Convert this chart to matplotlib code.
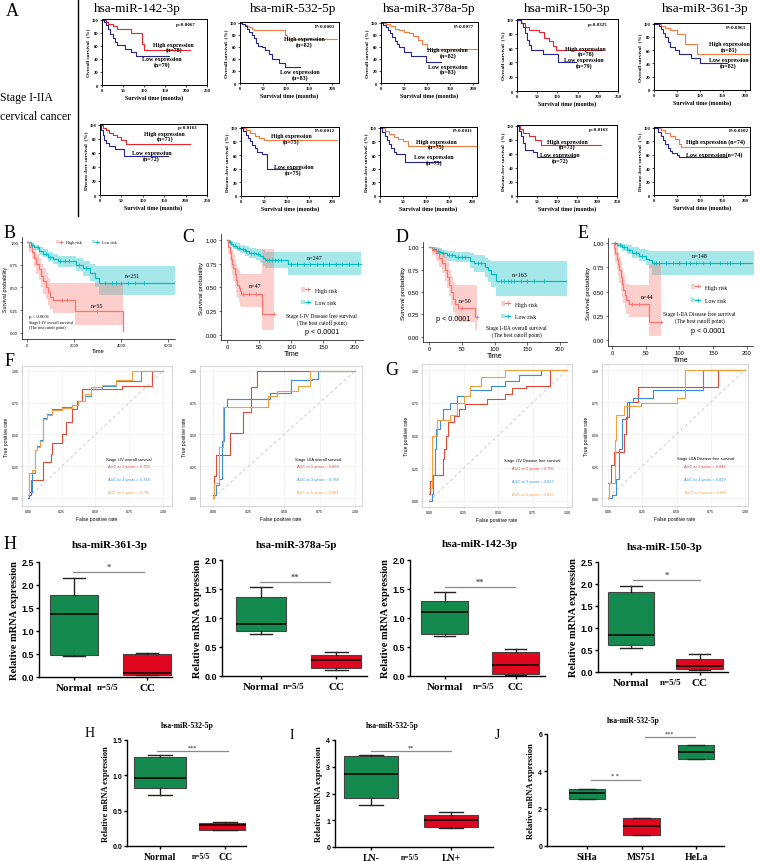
import numpy as np
import matplotlib
matplotlib.use("Agg")
import matplotlib.pyplot as plt
from matplotlib.lines import Line2D
from matplotlib.patches import Patch
from matplotlib.legend_handler import HandlerTuple
from matplotlib.ticker import FormatStrFormatter

SERIF = "Liberation Serif"
SANS = "Liberation Sans"
plt.rcParams["font.family"] = SERIF

W, H = 761, 862

# ---------------- Panel A : Kaplan-Meier, (month, survival %) ----------------
A_MIRS = ["hsa-miR-142-3p", "hsa-miR-532-5p", "hsa-miR-378a-5p", "hsa-miR-150-3p", "hsa-miR-361-3p"]
A_OS_P = ["p=0.0067", "P<0.0001", "P=0.0077", "p=0.0325", "P=0.0063"]
A_DFS_P = ["p=0.0163", "P=0.0012", "P=0.0011", "p=0.0163", "P=0.0102"]
A_OS_HI_LBL = ["High expression\n(n=78)", "High expression\n(n=82)", "High expression\n(n=82)",
               "High expression\n(n=78)", "High expression\n(n=81)"]
A_OS_LO_LBL = ["Low expression\n(n=79)", "Low expression\n(n=83)", "Low expression\n(n=83)",
               "Low expression\n(n=79)", "Low expression\n(n=82)"]
A_DFS_HI_LBL = ["High expression\n(n=71)", "High expression\n(n=75)", "High expression\n(n=75)",
                "High expression\n(n=71)", "High expression (n=74)"]
A_DFS_LO_LBL = ["Low expression\n(n=72)", "Low expression\n(n=75)", "Low expression\n(n=75)",
                "Low expression\n(n=72)", "Low expression(n=74)"]

OS_142_HI = [(0, 100), (10, 97), (15, 93), (25, 90), (35, 86), (70, 80), (96, 62), (100, 54), (210, 54)]
OS_142_LO = [(0, 100), (5, 97), (10, 92), (15, 85), (20, 78), (25, 72), (30, 66), (35, 61), (55, 55), (70, 50), (80, 44), (160, 44)]
OS_532_HI = [(0, 100), (5, 98), (10, 96), (15, 94), (20, 92), (25, 90), (30, 88), (40, 87), (97, 80), (103, 73), (210, 73)]
OS_532_LO = [(0, 100), (5, 97), (10, 94), (15, 90), (20, 85), (25, 80), (30, 74), (35, 67), (40, 62), (47, 60), (55, 55),
             (62, 48), (70, 40), (85, 33), (97, 26), (130, 26)]
OS_378_HI = [(0, 100), (10, 97), (20, 94), (30, 90), (40, 87), (50, 85), (60, 83), (70, 78), (80, 72), (90, 65), (100, 57), (210, 57)]
OS_378_LO = [(0, 100), (5, 96), (10, 92), (15, 87), (20, 82), (25, 76), (30, 70), (35, 65), (40, 60), (50, 52), (66, 45), (97, 35), (130, 35)]
OS_150_HI = [(0, 100), (10, 95), (20, 90), (30, 85), (55, 83), (68, 75), (80, 70), (90, 63), (97, 57), (210, 57)]
OS_150_LO = [(0, 100), (10, 95), (15, 90), (20, 82), (25, 72), (30, 65), (35, 58), (65, 52), (102, 41), (145, 41)]
OS_361_HI = [(0, 100), (15, 97), (25, 93), (35, 90), (50, 85), (68, 70), (95, 55), (210, 55)]
OS_361_LO = [(0, 100), (10, 96), (15, 92), (20, 86), (25, 80), (30, 72), (35, 65), (45, 60), (55, 55), (82, 48), (100, 40), (160, 40)]

DFS_142_HI = [(0, 100), (8, 95), (15, 92), (22, 88), (30, 85), (40, 82), (50, 78), (60, 73), (210, 73)]
DFS_142_LO = [(0, 100), (3, 92), (6, 85), (10, 78), (15, 74), (20, 70), (35, 66), (55, 55), (160, 55)]
DFS_532_HI = [(0, 100), (10, 96), (20, 92), (30, 88), (40, 85), (50, 82), (210, 82)]
DFS_532_LO = [(0, 100), (5, 95), (10, 90), (15, 85), (20, 80), (25, 74), (30, 70), (35, 65), (45, 62), (57, 40), (130, 40)]
DFS_378_HI = [(0, 100), (10, 95), (20, 91), (30, 87), (40, 84), (50, 80), (60, 73), (210, 73)]
DFS_378_LO = [(0, 100), (5, 94), (10, 88), (15, 82), (20, 76), (25, 70), (30, 65), (35, 62), (55, 50), (130, 50)]
DFS_150_HI = [(0, 100), (8, 95), (15, 90), (30, 85), (45, 80), (60, 72), (210, 72)]
DFS_150_LO = [(0, 100), (5, 92), (10, 85), (15, 75), (20, 65), (40, 62), (50, 55), (145, 55)]
DFS_361_HI = [(0, 100), (15, 96), (25, 92), (35, 88), (45, 83), (55, 76), (60, 72), (210, 72)]
DFS_361_LO = [(0, 100), (8, 94), (15, 88), (20, 82), (25, 76), (30, 70), (35, 66), (40, 63), (50, 60), (55, 56), (160, 56)]

# ---------------- Panels B-E : KM with confidence bands ----------------
B_LO_T = [0, 150, 300, 500, 700, 900, 1100, 1300, 2100, 2400, 2700, 2900, 3050, 6300]
B_LO_S = [1.0, 0.97, 0.94, 0.90, 0.87, 0.84, 0.81, 0.79, 0.75, 0.71, 0.66, 0.60, 0.55, 0.55]
B_LO_L = [1.0, 0.95, 0.91, 0.86, 0.83, 0.79, 0.76, 0.73, 0.68, 0.63, 0.57, 0.50, 0.42, 0.42]
B_LO_U = [1.0, 0.99, 0.97, 0.94, 0.92, 0.89, 0.87, 0.85, 0.82, 0.79, 0.76, 0.74, 0.74, 0.74]
B_LO_C = [200, 450, 800, 1000, 1400, 1600, 1800, 2200, 2500, 3300, 3600, 3800, 4000, 4300, 4600, 5000]
B_HI_T = [0, 100, 200, 300, 400, 500, 600, 700, 800, 900, 1000, 1100, 2050, 4100]
B_HI_S = [1.0, 0.95, 0.89, 0.82, 0.76, 0.70, 0.63, 0.57, 0.51, 0.45, 0.40, 0.36, 0.24, 0.02]
B_HI_L = [1.0, 0.89, 0.81, 0.72, 0.65, 0.58, 0.50, 0.43, 0.37, 0.31, 0.26, 0.22, 0.09, 0.09]
B_HI_U = [1.0, 1.0, 0.97, 0.92, 0.87, 0.82, 0.76, 0.71, 0.66, 0.60, 0.55, 0.55, 0.55, 0.55]
B_HI_C = [1500, 1700, 3000]

C_LO_T = [0, 3, 6, 10, 15, 20, 28, 35, 45, 52, 57, 60, 96, 210]
C_LO_S = [1.0, 0.98, 0.96, 0.94, 0.92, 0.90, 0.88, 0.86, 0.85, 0.83, 0.81, 0.79, 0.75, 0.75]
C_LO_L = [1.0, 0.96, 0.93, 0.91, 0.88, 0.86, 0.83, 0.81, 0.79, 0.76, 0.73, 0.70, 0.63, 0.63]
C_LO_U = [1.0, 1.0, 0.99, 0.98, 0.97, 0.95, 0.94, 0.92, 0.91, 0.90, 0.89, 0.87, 0.87, 0.87]
C_LO_C = [5, 12, 18, 25, 30, 38, 42, 48, 62, 66, 70, 75, 80, 85, 100, 110, 120, 130, 140, 150, 160, 170, 180, 190, 205]
C_HI_T = [0, 2, 4, 6, 8, 10, 12, 14, 16, 18, 20, 22, 55, 73]
C_HI_S = [1.0, 0.93, 0.87, 0.80, 0.75, 0.70, 0.64, 0.58, 0.53, 0.49, 0.46, 0.43, 0.22, 0.22]
C_HI_L = [1.0, 0.85, 0.77, 0.69, 0.63, 0.57, 0.50, 0.44, 0.39, 0.35, 0.31, 0.29, 0.05, 0.05]
C_HI_U = [1.0, 1.0, 0.98, 0.93, 0.89, 0.85, 0.80, 0.75, 0.71, 0.68, 0.65, 0.64, 0.91, 0.91]
C_HI_C = [25, 35, 45, 73]

D_LO_T = [0, 5, 10, 15, 20, 28, 40, 62, 68, 85, 90, 95, 102, 210]
D_LO_S = [1.0, 0.98, 0.96, 0.95, 0.93, 0.91, 0.89, 0.85, 0.82, 0.78, 0.74, 0.70, 0.62, 0.62]
D_LO_L = [1.0, 0.96, 0.93, 0.91, 0.88, 0.85, 0.83, 0.77, 0.72, 0.67, 0.61, 0.56, 0.46, 0.46]
D_LO_U = [1.0, 1.0, 0.99, 0.99, 0.97, 0.96, 0.95, 0.93, 0.91, 0.88, 0.86, 0.84, 0.84, 0.84]
D_LO_C = [8, 14, 22, 30, 35, 45, 50, 55, 75, 80, 110, 115, 120, 125, 130, 140, 150, 160, 175]
D_HI_T = [0, 5, 10, 15, 20, 25, 28, 31, 34, 37, 40, 44, 70, 74]
D_HI_S = [1.0, 0.97, 0.93, 0.88, 0.82, 0.75, 0.67, 0.58, 0.50, 0.42, 0.37, 0.32, 0.22, 0.22]
D_HI_L = [1.0, 0.91, 0.85, 0.78, 0.71, 0.62, 0.54, 0.45, 0.36, 0.28, 0.22, 0.17, 0.08, 0.08]
D_HI_U = [1.0, 1.0, 1.0, 0.98, 0.94, 0.89, 0.83, 0.75, 0.68, 0.61, 0.58, 0.58, 0.58, 0.58]
D_HI_C = [50, 73]

E_LO_T = [0, 8, 15, 22, 30, 40, 50, 55, 60, 210]
E_LO_S = [1.0, 0.98, 0.96, 0.93, 0.90, 0.87, 0.84, 0.82, 0.79, 0.79]
E_LO_L = [1.0, 0.96, 0.92, 0.89, 0.85, 0.81, 0.77, 0.74, 0.67, 0.67]
E_LO_U = [1.0, 1.0, 0.99, 0.98, 0.96, 0.94, 0.93, 0.92, 0.92, 0.92]
E_LO_C = [5, 12, 18, 25, 35, 45, 62, 65, 70, 80, 90, 100, 110, 115, 125, 135, 145, 160, 170, 175, 190]
E_HI_T = [0, 3, 5, 7, 9, 11, 13, 15, 17, 19, 21, 25, 55, 73]
E_HI_S = [1.0, 0.95, 0.90, 0.84, 0.78, 0.72, 0.65, 0.58, 0.52, 0.46, 0.41, 0.37, 0.19, 0.19]
E_HI_L = [1.0, 0.87, 0.80, 0.73, 0.66, 0.59, 0.51, 0.44, 0.38, 0.32, 0.27, 0.24, 0.04, 0.04]
E_HI_U = [1.0, 1.0, 1.0, 0.96, 0.91, 0.86, 0.80, 0.74, 0.68, 0.62, 0.58, 0.57, 0.78, 0.78]
E_HI_C = [30, 40, 72]

# ---------------- Panels F-G : time-dependent ROC (FPR, TPR) ----------------
F1_RED_X = [0, 0.02, 0.11, 0.17, 0.18, 0.25, 0.28, 0.33, 0.36, 0.40, 0.70, 0.92, 1.0]
F1_RED_Y = [0.02, 0.14, 0.28, 0.35, 0.43, 0.50, 0.60, 0.70, 0.76, 0.86, 0.88, 1.0, 1.0]
F1_BLU_X = [0, 0.01, 0.03, 0.05, 0.07, 0.09, 0.11, 0.14, 0.18, 0.25, 0.33, 0.37, 0.42, 0.47, 0.55, 0.65, 0.84, 1.0]
F1_BLU_Y = [0.0, 0.05, 0.20, 0.38, 0.41, 0.46, 0.63, 0.66, 0.70, 0.72, 0.73, 0.76, 0.80, 0.86, 0.88, 0.92, 1.0, 1.0]
F1_ORA_X = [0, 0.01, 0.03, 0.05, 0.07, 0.09, 0.11, 0.14, 0.18, 0.25, 0.33, 0.37, 0.42, 0.47, 0.55, 0.65, 0.77, 1.0]
F1_ORA_Y = [0.02, 0.20, 0.22, 0.38, 0.40, 0.45, 0.62, 0.65, 0.69, 0.71, 0.73, 0.76, 0.82, 0.87, 0.89, 0.93, 1.0, 1.0]
F1_AUC = ["0.709", "0.794", "0.795"]

F2_RED_X = [0, 0.01, 0.02, 0.12, 0.21, 0.27, 0.31, 1.0]
F2_RED_Y = [0.0, 0.17, 0.34, 0.51, 0.68, 0.87, 1.0, 1.0]
F2_BLU_X = [0, 0.02, 0.04, 0.06, 0.08, 0.10, 0.40, 0.55, 0.70, 0.74, 1.0]
F2_BLU_Y = [0.02, 0.10, 0.15, 0.45, 0.72, 0.78, 0.83, 0.93, 0.94, 1.0, 1.0]
F2_ORA_X = [0, 0.01, 0.04, 0.07, 0.39, 0.45, 0.60, 0.68, 1.0]
F2_ORA_Y = [0.0, 0.12, 0.40, 0.72, 0.80, 0.84, 0.88, 1.0, 1.0]
F2_AUC = ["0.839", "0.788", "0.804"]

G1_RED_X = [0, 0.01, 0.02, 0.10, 0.11, 0.12, 0.14, 0.18, 0.22, 0.26, 0.42, 0.55, 0.60, 0.70, 0.88, 1.0]
G1_RED_Y = [0.05, 0.15, 0.20, 0.32, 0.40, 0.50, 0.60, 0.65, 0.70, 0.74, 0.78, 0.82, 0.86, 0.88, 1.0, 1.0]
G1_BLU_X = [0, 0.02, 0.03, 0.04, 0.05, 0.08, 0.10, 0.15, 0.20, 0.30, 0.45, 0.55, 0.65, 0.81, 1.0]
G1_BLU_Y = [0.0, 0.05, 0.20, 0.40, 0.55, 0.62, 0.70, 0.75, 0.80, 0.85, 0.88, 0.92, 0.96, 1.0, 1.0]
G1_ORA_X = [0, 0.02, 0.06, 0.15, 0.20, 0.25, 0.30, 0.38, 0.55, 1.0]
G1_ORA_Y = [0.10, 0.50, 0.62, 0.66, 0.75, 0.80, 0.88, 0.95, 1.0, 1.0]
G1_AUC = ["0.750", "0.817", "0.833"]

G2_RED_X = [0, 0.02, 0.04, 0.12, 0.13, 0.15, 0.22, 0.80, 1.0]
G2_RED_Y = [0.12, 0.26, 0.36, 0.50, 0.63, 0.75, 0.87, 1.0, 1.0]
G2_BLU_X = [0, 0.03, 0.06, 0.08, 0.10, 0.14, 0.18, 0.33, 0.69, 1.0]
G2_BLU_Y = [0.0, 0.02, 0.15, 0.38, 0.62, 0.75, 0.78, 0.84, 1.0, 1.0]
G2_ORA_X = [0, 0.01, 0.05, 0.06, 0.12, 0.24, 0.50, 0.56, 1.0]
G2_ORA_Y = [0.0, 0.12, 0.45, 0.65, 0.72, 0.74, 0.78, 1.0, 1.0]
G2_AUC = ["0.842", "0.819", "0.809"]

# ---------------- Panels H-J : box plots (whisker lo, q1, median, q3, whisker hi) ----------------
H_361 = [[0.45, 0.48, 1.38, 1.79, 2.16], [0.04, 0.05, 0.09, 0.50, 0.53]]
H_378 = [[0.72, 0.78, 0.89, 1.36, 1.53], [0.11, 0.14, 0.27, 0.36, 0.42]]
H_142 = [[0.69, 0.73, 1.11, 1.30, 1.44], [0.01, 0.04, 0.19, 0.41, 0.46]]
H_150 = [[0.55, 0.61, 0.83, 1.81, 1.96], [0.05, 0.07, 0.14, 0.30, 0.40]]
H_532 = [[0.72, 0.82, 0.96, 1.26, 1.29], [0.22, 0.23, 0.30, 0.33, 0.34]]
I_532 = [[1.57, 1.82, 2.72, 3.40, 3.45], [0.70, 0.75, 1.01, 1.18, 1.31]]
J_532 = [[2.52, 2.52, 2.82, 3.05, 3.05], [0.60, 0.60, 1.05, 1.48, 1.48], [4.65, 4.65, 5.02, 5.42, 5.42]]
NC_LABELS = ["Normal", "CC"]
LN_LABELS = ["LN-", "LN+"]
CELL_LABELS = ["SiHa", "MS751", "HeLa"]

HI_RED = "#E8262B"
HI_ORANGE = "#F47C42"
LOW_NAVY = "#26248E"
KM_RED = "#F8766D"
KM_CYAN = "#00BFC4"
ROC_RED, ROC_BLUE, ROC_ORANGE = "#DC4B37", "#3B8ED8", "#F3A03B"
BOX_GREEN, BOX_RED = "#148A4E", "#E0061F"

fig = plt.figure(figsize=(W / 100, H / 100), dpi=100)
fig.patch.set_facecolor("white")


def px_axes(x0, y0, x1, y1):
    return fig.add_axes([x0 / W, 1 - y1 / H, (x1 - x0) / W, (y1 - y0) / H])


def ftext(x, y, s, **kw):
    fig.text(x / W, 1 - y / H, s, **kw)


def tick_font(ax, size, family, weight="normal"):
    for lab in ax.get_xticklabels() + ax.get_yticklabels():
        lab.set_fontsize(size)
        lab.set_family(family)
        lab.set_weight(weight)


# ---------- Panel A ----------
ftext(12, 11, "A", fontsize=13, va="center", ha="center")
fig.add_artist(Line2D([78 / W, 78 / W], [1, 1 - 217 / H], color="black", lw=1.0))
ftext(0, 98, "Stage I-IIA", fontsize=8.5, va="center", ha="left")
ftext(0, 117, "cervical cancer", fontsize=8.5, va="center", ha="left")
for name, cx in zip(A_MIRS, [137, 293, 429, 567, 705]):
    ftext(cx, 9, name, fontsize=9.5, ha="center", va="center")

os_curves = [(OS_142_HI, OS_142_LO, HI_RED), (OS_532_HI, OS_532_LO, HI_ORANGE), (OS_378_HI, OS_378_LO, HI_ORANGE),
             (OS_150_HI, OS_150_LO, HI_RED), (OS_361_HI, OS_361_LO, HI_ORANGE)]
dfs_curves = [(DFS_142_HI, DFS_142_LO, HI_RED), (DFS_532_HI, DFS_532_LO, HI_ORANGE), (DFS_378_HI, DFS_378_LO, HI_ORANGE),
              (DFS_150_HI, DFS_150_LO, HI_RED), (DFS_361_HI, DFS_361_LO, HI_ORANGE)]
os_boxes = [(102, 20, 207, 86, 250), (240, 23, 339, 84, 215), (381, 23, 478, 84, 211), (517, 20, 618, 92, 250), (654, 24, 750, 91, 210)]
dfs_boxes = [(100, 125, 207, 196, 250), (241, 128, 339, 197, 215), (380, 128, 477, 197, 211), (517, 126, 617, 197, 250), (654, 128, 750, 196, 210)]
os_txt = [((200, 94), (171, 58), (143, 36)), ((185, 95), (140, 69), (130, 14)), ((180, 95), (145, 51), (145, 23)),
          ((200, 94), (170, 56), (165, 40)), ((180, 95), (165, 66), (163, 41))]
dfs_txt = [((205, 97), (151, 84), (120, 56)), ((185, 97), (110, 84), (115, 39)), ((180, 97), (122, 76), (118, 53)),
           ((205, 95), (126, 74), (108, 55)), ((185, 97), (135, 80), (132, 61))]

for row, (curves, boxes, txts, plist, hlbl, llbl, ylab) in enumerate([
        (os_curves, os_boxes, os_txt, A_OS_P, A_OS_HI_LBL, A_OS_LO_LBL, "Overall survival  (%)"),
        (dfs_curves, dfs_boxes, dfs_txt, A_DFS_P, A_DFS_HI_LBL, A_DFS_LO_LBL, "Disease-free survival  (%)")]):
    for i in range(5):
        hi, lo, hcol = curves[i]
        x0, y0, x1, y1, xmax = boxes[i]
        ax = px_axes(x0, y0, x1, y1)
        for curve, col in ((hi, hcol), (lo, LOW_NAVY)):
            t, s = zip(*curve)
            ax.plot(t, s, drawstyle="steps-post", color=col, lw=0.8)
        ax.set_xlim(0, xmax)
        ax.set_ylim(0, 101)
        ax.set_xticks(list(range(0, xmax + 1, 50)))
        ax.set_yticks([0, 20, 40, 60, 80, 100])
        ax.tick_params(length=1.5, width=0.5, pad=1)
        tick_font(ax, 3.3, SERIF, "bold")
        for sp in ax.spines.values():
            sp.set_linewidth(0.7)
        ax.set_ylabel(ylab, fontsize=3.8, fontweight="bold", labelpad=1)
        ax.set_xlabel("Survival time (months)", fontsize=4.3, fontweight="bold", labelpad=1)
        (px, py), (hx, hy), (lx, ly) = txts[i]
        ax.text(px, py, plist[i], fontsize=3.6, fontweight="bold", ha="center", va="center")
        ax.text(hx, hy, hlbl[i], fontsize=4.3, fontweight="bold", ha="center", va="center", linespacing=1.0)
        ax.text(lx, ly, llbl[i], fontsize=4.3, fontweight="bold", ha="center", va="center", linespacing=1.0)


# ---------- Panels B-E ----------
def km_band(ax, t, s, lo, hi, cens, color):
    ax.fill_between(t, lo, hi, step="post", color=color, alpha=0.35, lw=0)
    ax.plot(t, s, drawstyle="steps-post", color=color, lw=0.9)
    idx = np.searchsorted(t, cens, side="right") - 1
    ax.plot(cens, np.array(s)[idx], "+", color=color, ms=2.5, mew=0.6)


def km_style(ax, tsize, lsize, xsize):
    for side in ("top", "right"):
        ax.spines[side].set_visible(False)
    for side in ("left", "bottom"):
        ax.spines[side].set_linewidth(0.5)
    ax.set_yticks([0, 0.25, 0.5, 0.75, 1.0], ["0.00", "0.25", "0.50", "0.75", "1.00"])
    ax.tick_params(length=1.8, width=0.5, pad=1, color="#333333")
    tick_font(ax, tsize, SANS)
    ax.set_ylabel("Survival probability", fontsize=lsize, family=SANS, labelpad=1.5)
    ax.set_xlabel("Time", fontsize=xsize, family=SANS, labelpad=0.5)


def km_legend(ax, loc, anchor, size, ncol=1, spacing=1.0):
    handles = [(Patch(fc=c, alpha=0.35, lw=0), Line2D([], [], color=c, marker="+", lw=0.8, ms=3, mew=0.6))
               for c in (KM_RED, KM_CYAN)]
    ax.legend(handles, ["High risk", "Low risk"], handler_map={tuple: HandlerTuple(ndivide=None)},
              loc=loc, bbox_to_anchor=anchor, ncol=ncol, frameon=False, fontsize=size,
              labelspacing=spacing, handlelength=1.6, handletextpad=0.8, columnspacing=2.5, borderpad=0)


ftext(10, 233, "B", fontsize=13, ha="center", va="center")
ftext(188, 238, "C", fontsize=13, ha="center", va="center")
ftext(402, 238, "D", fontsize=13, ha="center", va="center")
ftext(583, 233, "E", fontsize=13, ha="center", va="center")

axB = px_axes(22, 238, 175, 340)
km_band(axB, B_LO_T, B_LO_S, B_LO_L, B_LO_U, B_LO_C, KM_CYAN)
km_band(axB, B_HI_T, B_HI_S, B_HI_L, B_HI_U, B_HI_C, KM_RED)
axB.set_xlim(-213, 6300)
axB.set_ylim(-0.066, 1.055)
axB.set_xticks([0, 2000, 4000, 6000])
km_style(axB, 3.0, 3.8, 4.2)
km_legend(axB, "center", (0.42, 0.95), 3.0, ncol=2)
axB.text(4470, 0.63, "n=251", fontsize=4.2, ha="center", va="center")
axB.text(2980, 0.30, "n=55", fontsize=4.2, ha="center", va="center")
axB.text(80, 0.19, "p < 0.0001", fontsize=3.4, ha="left", va="center")
axB.text(80, 0.09, "Stage I-IV overall survival\n(The best cutoff point)", fontsize=3.0, ha="left", va="center",
         linespacing=1.4)

axC = px_axes(221, 235, 363, 341)
km_band(axC, C_LO_T, C_LO_S, C_LO_L, C_LO_U, C_LO_C, KM_CYAN)
km_band(axC, C_HI_T, C_HI_S, C_HI_L, C_HI_U, C_HI_C, KM_RED)
axC.set_xlim(-9.4, 212.5)
axC.set_ylim(-0.053, 1.063)
axC.set_xticks([0, 50, 100, 150, 200])
km_style(axC, 4.2, 4.6, 5.2)
km_legend(axC, "center left", (0.54, 0.415), 4.2, spacing=1.2)
axC.text(137, 0.82, "n=247", fontsize=4.4, ha="center", va="center")
axC.text(44, 0.52, "n=47", fontsize=4.4, ha="center", va="center")
axC.text(148, 0.17, "Stage I-IV Disease free survival\n(The best cutoff point)", fontsize=4.0, ha="center",
         va="center", linespacing=1.2)
axC.text(148, 0.04, "p < 0.0001", fontsize=5.2, family=SANS, ha="center", va="center")

axD = px_axes(423, 243, 567, 343)
km_band(axD, D_LO_T, D_LO_S, D_LO_L, D_LO_U, D_LO_C, KM_CYAN)
km_band(axD, D_HI_T, D_HI_S, D_HI_L, D_HI_U, D_HI_C, KM_RED)
axD.set_xlim(-9.2, 210.7)
axD.set_ylim(-0.056, 1.056)
axD.set_xticks([0, 50, 100, 150, 200])
km_style(axD, 4.2, 4.6, 5.2)
km_legend(axD, "center left", (0.52, 0.32), 4.2, spacing=1.2)
axD.text(139, 0.70, "n=163", fontsize=4.4, ha="center", va="center")
axD.text(55, 0.41, "n=50", fontsize=4.4, ha="center", va="center")
axD.text(10, 0.20, "p < 0.0001", fontsize=5.2, family=SANS, ha="left", va="center")
axD.text(134, 0.07, "Stage I-IIA overall survival\n(The best cutoff point)", fontsize=4.0, ha="center",
         va="center", linespacing=1.2)

axE = px_axes(608, 239, 753, 347)
km_band(axE, E_LO_T, E_LO_S, E_LO_L, E_LO_U, E_LO_C, KM_CYAN)
km_band(axE, E_HI_T, E_HI_S, E_HI_L, E_HI_U, E_HI_C, KM_RED)
axE.set_xlim(-5.9, 208.9)
axE.set_ylim(-0.062, 1.052)
axE.set_xticks([0, 50, 100, 150, 200])
km_style(axE, 4.2, 4.6, 5.2)
km_legend(axE, "center left", (0.55, 0.485), 4.2, spacing=1.4)
axE.text(130, 0.87, "n=148", fontsize=4.4, ha="center", va="center")
axE.text(52, 0.45, "n=44", fontsize=4.4, ha="center", va="center")
axE.text(130, 0.24, "Stage I-IIA Disease free survival\n(The best cutoff point)", fontsize=4.0, ha="center",
         va="center", linespacing=1.2)
axE.text(142, 0.10, "p < 0.0001", fontsize=5.2, family=SANS, ha="center", va="center")


# ---------- Panels F-G ----------
def roc_panel(box, lims, curves, title, aucs, tx):
    x0, y0, x1, y1 = box
    ax = px_axes(x0, y0, x1, y1)
    ax.grid(color="#EDEDED", lw=0.4)
    ax.set_axisbelow(True)
    ax.plot([0, 1], [0, 1], ls=(0, (4, 3)), color="#C8C8C8", lw=0.6)
    for (xs, ys), c in zip(curves, (ROC_RED, ROC_BLUE, ROC_ORANGE)):
        ax.plot(xs, ys, drawstyle="steps-post", color=c, lw=0.8)
    ax.set_xlim(*lims[0])
    ax.set_ylim(*lims[1])
    ticks = [0, 0.25, 0.5, 0.75, 1.0]
    lbls = ["0.00", "0.25", "0.50", "0.75", "1.00"]
    ax.set_xticks(ticks, lbls)
    ax.set_yticks(ticks, lbls)
    ax.tick_params(length=1, width=0.4, pad=1.5, color="#888888")
    tick_font(ax, 2.5, SANS)
    for sp in ax.spines.values():
        sp.set_color("#CFCFCF")
        sp.set_linewidth(0.6)
    ax.set_xlabel("False positive rate", fontsize=3.6, family=SANS, labelpad=2)
    ax.set_ylabel("True positive rate", fontsize=3.6, family=SANS, labelpad=2)
    ax.text(tx, 0.31, title, fontsize=2.9, family=SANS, ha="center", va="center")
    for yy, yr, auc, c in zip((0.25, 0.15, 0.05), (1, 3, 5), aucs, (ROC_RED, ROC_BLUE, ROC_ORANGE)):
        ax.text(tx, yy, f"AUC at {yr} years = {auc}", fontsize=2.9, family=SANS, color=c, ha="center", va="center")


ftext(10, 362, "F", fontsize=13, ha="center", va="center")
ftext(392, 371, "G", fontsize=13, ha="center", va="center")
roc_panel((22, 367, 172, 507), ((-0.044, 1.067), (-0.063, 1.039)),
          [(F1_RED_X, F1_RED_Y), (F1_BLU_X, F1_BLU_Y), (F1_ORA_X, F1_ORA_Y)],
          "Stage I-IV overall survival", F1_AUC, 0.75)
roc_panel((200, 367, 362, 507), ((-0.092, 1.049), (-0.063, 1.039)),
          [(F2_RED_X, F2_RED_Y), (F2_BLU_X, F2_BLU_Y), (F2_ORA_X, F2_ORA_Y)],
          "Stage I-IIA overall survival", F2_AUC, 0.74)
roc_panel((422, 365, 572, 508), ((-0.051, 1.036), (-0.046, 1.046)),
          [(G1_RED_X, G1_RED_Y), (G1_BLU_X, G1_BLU_Y), (G1_ORA_X, G1_ORA_Y)],
          "Stage I-IV Disease free survival", G1_AUC, 0.75)
roc_panel((602, 365, 748, 507), ((-0.044, 1.022), (-0.0625, 1.047)),
          [(G2_RED_X, G2_RED_Y), (G2_BLU_X, G2_BLU_Y), (G2_ORA_X, G2_ORA_Y)],
          "Stage I-IIA Disease free survival", G2_AUC, 0.71)


# ---------- Panels H-J ----------
def box_panel(box, xlim, ymax, yticks, fmt, groups, labels, colors, width, sigs, nlabel_x,
              tsize, lsize, csize, nsize, ytsize):
    x0, y0, x1, y1 = box
    ax = px_axes(x0, y0, x1, y1)
    pos = list(range(1, len(groups) + 1))
    stats = [dict(whislo=g[0], q1=g[1], med=g[2], q3=g[3], whishi=g[4], fliers=[]) for g in groups]
    bx = ax.bxp(stats, positions=pos, widths=width, patch_artist=True, showfliers=False, capwidths=width * 0.45,
                boxprops=dict(lw=0.8, edgecolor="#444444"), medianprops=dict(color="black", lw=1.1),
                whiskerprops=dict(lw=1.0, color="#222222"), capprops=dict(lw=1.0, color="#222222"))
    for patch, c in zip(bx["boxes"], colors):
        patch.set_facecolor(c)
    ax.set_xlim(*xlim)
    ax.set_ylim(0, ymax)
    for side in ("top", "right"):
        ax.spines[side].set_visible(False)
    for side in ("left", "bottom"):
        ax.spines[side].set_linewidth(1.0)
    ax.set_yticks(yticks)
    ax.yaxis.set_major_formatter(FormatStrFormatter(fmt))
    if nlabel_x is not None:
        ax.set_xticks([pos[0], nlabel_x, pos[1]], [labels[0], "n=5/5", labels[1]])
        ax.xaxis.get_major_ticks()[1].tick1line.set_visible(False)
    else:
        ax.set_xticks(pos, labels)
    ax.tick_params(axis="y", length=2.5, width=1.0, pad=1)
    ax.tick_params(axis="x", length=2.5, width=1.0, pad=2)
    for lab in ax.get_yticklabels():
        lab.set_fontsize(ytsize)
        lab.set_family(SANS)
        lab.set_weight("bold")
    for lab in ax.get_xticklabels():
        lab.set_fontsize(nsize if lab.get_text() == "n=5/5" else csize)
        lab.set_weight("bold")
    ax.set_ylabel("Relative mRNA expression", fontsize=lsize, fontweight="bold", labelpad=2)
    for xa, xb, yy, star in sigs:
        ax.plot([xa, xb], [yy, yy], color="#8A8A8A", lw=0.9)
        ax.text((xa + xb) / 2, yy + ymax * 0.012, star, fontsize=tsize, color="#555555", ha="center",
                va="bottom", fontweight="bold")
    return ax


ftext(10, 545, "H", fontsize=13, ha="center", va="center")
row_titles = [("hsa-miR-361-3p", 110, 546), ("hsa-miR-378a-5p", 297, 546), ("hsa-miR-142-3p", 480, 545),
              ("hsa-miR-150-3p", 665, 547)]
for name, cx, cy in row_titles:
    ftext(cx, cy, name, fontsize=8, fontweight="bold", ha="center", va="center")

nc_cols = [BOX_GREEN, BOX_RED]
box_panel((39, 563, 172, 678), (0.52, 2.34), 2.5, [0, 0.5, 1.0, 1.5, 2.0, 2.5], "%.1f", H_361, NC_LABELS,
          nc_cols, 0.66, [(0.99, 1.95, 2.28, "*")], 1.46, 6, 7.5, 8, 6.5, 6.5)
box_panel((222, 561, 367, 677), (0.48, 2.41), 2.0, [0, 0.5, 1.0, 1.5, 2.0], "%.1f", H_378, NC_LABELS,
          nc_cols, 0.67, [(0.98, 1.92, 1.62, "**")], 1.43, 6, 7.5, 8, 6.5, 6.5)
box_panel((410, 561, 545, 677), (0.51, 2.41), 2.0, [0, 0.5, 1.0, 1.5, 2.0], "%.1f", H_142, NC_LABELS,
          nc_cols, 0.66, [(1.0, 1.99, 1.53, "**")], 1.54, 6, 7.5, 8, 6.5, 6.5)
box_panel((598, 563, 728, 673), (0.52, 2.41), 2.5, [0, 0.5, 1.0, 1.5, 2.0, 2.5], "%.1f", H_150, NC_LABELS,
          nc_cols, 0.68, [(1.03, 2.0, 2.09, "*")], 1.57, 6, 7.5, 8, 6.5, 6.5)

ftext(90, 734, "H", fontsize=10, ha="center", va="center")
ftext(292, 736, "I", fontsize=10, ha="center", va="center")
ftext(497, 736, "J", fontsize=10, ha="center", va="center")
for cx, cy in ((187, 726), (392, 726), (633, 721)):
    ftext(cx, cy, "hsa-miR-532-5p", fontsize=5.6, fontweight="bold", ha="center", va="center")

box_panel((127, 741, 246, 847), (0.49, 2.32), 1.5, [0, 0.5, 1.0, 1.5], "%.1f", H_532, NC_LABELS,
          nc_cols, 0.8, [(0.95, 2.05, 1.35, "***")], 1.62, 4.5, 6, 7, 5.5, 5)
box_panel((335, 741, 493, 848), (0.55, 2.52), 4, [0, 1, 2, 3, 4], "%d", I_532, LN_LABELS,
          nc_cols, 0.67, [(1.0, 2.0, 3.6, "**")], 1.48, 4.5, 6, 7, 5.5, 5)
box_panel((547, 735, 724, 847), (0.27, 3.51), 6, [0, 2, 4, 6], "%d", J_532, CELL_LABELS,
          [BOX_GREEN, BOX_RED, BOX_GREEN], 0.66, [(1.07, 1.97, 3.55, "* *"), (2.07, 2.97, 5.85, "***")],
          None, 4.5, 6, 7, 5.5, 5)

fig.savefig("out.png", dpi=100, facecolor="white")
